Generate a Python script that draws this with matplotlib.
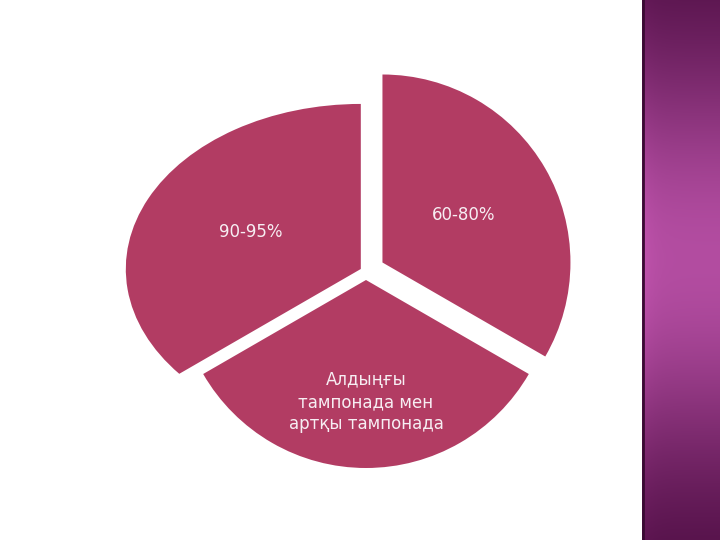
import numpy as np
import matplotlib.pyplot as plt
from matplotlib.transforms import Affine2D

labels = ['60-80%', 'Алдыңғы\nтампонада мен\nартқы тампонада', '90-95%']
sizes = [1, 1, 1]
explode = [19, 8, 6]
label_dist = [0.50, 0.65, 0.52]

slice_color = '#b23c63'
text_color = '#f7eef3'

fig = plt.figure(figsize=(7.2, 5.4), dpi=100)
ax = fig.add_axes([0, 0, 1, 1])

R = 188
wedges, texts = ax.pie(sizes, labels=labels, explode=explode, radius=R, center=(366, 268),
                       startangle=90, counterclock=False, colors=[slice_color] * 3,
                       labeldistance=0.5, frame=True,
                       textprops=dict(color=text_color, fontsize=12, ha='center', va='center',
                                      linespacing=1.3))
ax.set_xlim(0, 720)
ax.set_ylim(0, 540)
ax.axis('off')

# label positions inside each slice
for w, t, d in zip(wedges, texts, label_dist):
    mid = np.radians((w.theta1 + w.theta2) / 2)
    cx, cy = w.center
    t.set_position((cx + R * d * np.cos(mid), cy + R * d * np.sin(mid)))

# the left slice is drawn in perspective: stretched sideways, squashed vertically
sx, sy = 1.25, 0.878
lw = wedges[2]
t_edge = np.radians(lw.theta2)
lw.set_theta2(np.degrees(np.arctan2(sx * np.sin(t_edge), sy * np.cos(t_edge))))
cx, cy = lw.center
persp = Affine2D().translate(-cx, -cy).scale(sx, sy).translate(cx, cy)
lw.set_transform(persp + ax.transData)
mid = np.radians((lw.theta1 + lw.theta2) / 2)
texts[2].set_position((cx + R * label_dist[2] * np.cos(mid), cy + R * label_dist[2] * np.sin(mid)))
texts[2].set_transform(persp + ax.transData)

# purple side stripe
sax = fig.add_axes([642 / 720, 0, 78 / 720, 1])
yy = np.linspace(0, 1, 256)
bright = np.exp(-((yy - 0.48) / 0.4) ** 2)
dark = np.array([0.27, 0.03, 0.23])
light = np.array([0.70, 0.30, 0.63])
col = dark[None, :] + (light - dark)[None, :] * bright[:, None]
img = np.repeat(col[:, None, :], 20, axis=1)
xx = np.linspace(0, 1, 20)
img = img * (1 + 0.08 * np.exp(-xx / 0.12))[None, :, None]
sax.imshow(np.clip(img, 0, 1), aspect='auto', extent=[0, 1, 0, 1])
sax.axvline(0.01, color='#3a0a33', lw=2)
sax.axis('off')

fig.savefig('out.png', dpi=100)
